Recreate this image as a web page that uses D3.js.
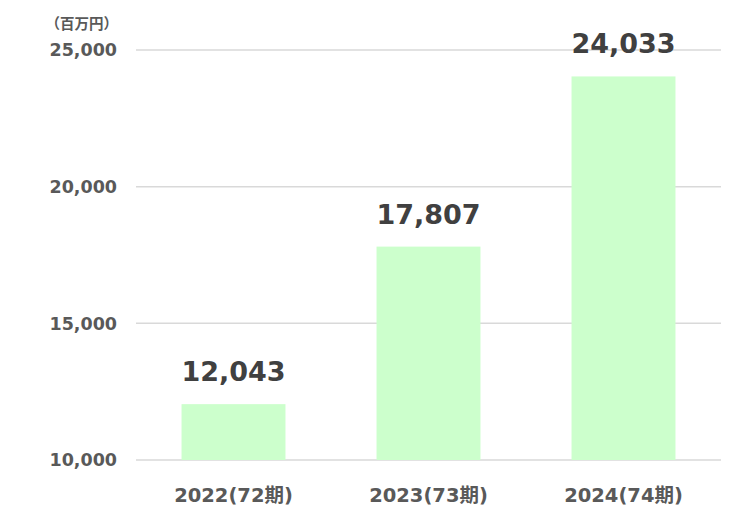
<!DOCTYPE html>
<html>
<head>
<meta charset="utf-8">
<script src="https://cdn.jsdelivr.net/npm/d3@7"></script>
<style>
  body { margin: 0; background: #fff; }
  svg text { font-family: "DejaVu Sans", "Noto Sans CJK JP", sans-serif; font-weight: bold; }
</style>
</head>
<body>
<div id="chart"></div>
<script>
// Chart data
const categories = ["2022(72期)", "2023(73期)", "2024(74期)"];
const sales = [12043, 17807, 24033];
const yTicks = [10000, 15000, 20000, 25000];
const unitLabel = "（百万円）";

const WIDTH = 745;
const HEIGHT = 513;

const svg = d3
  .select("#chart")
  .append("svg")
  .attr("width", WIDTH)
  .attr("height", HEIGHT);

const xScale = d3
  .scaleBand()
  .domain(categories)
  .range([136, 721])
  .paddingInner(0.467)
  .paddingOuter(0.2335);

const yScale = d3.scaleLinear([10000, 25000], [460, 50]);

// Gridlines
svg
  .append("g")
  .selectAll("line")
  .data(yTicks)
  .enter()
  .append("line")
  .attr("x1", 136)
  .attr("x2", 721)
  .attr("y1", (d) => yScale(d))
  .attr("y2", (d) => yScale(d))
  .attr("stroke", "#d9d9d9")
  .attr("stroke-width", 1.5);

// Y tick labels
svg
  .append("g")
  .selectAll("text")
  .data(yTicks)
  .enter()
  .append("text")
  .attr("x", 117)
  .attr("y", (d) => yScale(d))
  .attr("dy", "0.37em")
  .attr("text-anchor", "end")
  .style("font-size", "17.5px")
  .style("fill", "#595959")
  .text((d) => d3.format(",")(d));

svg
  .append("text")
  .attr("x", 118)
  .attr("y", 29)
  .attr("text-anchor", "end")
  .style("font-family", "'Noto Sans CJK JP', sans-serif")
  .style("font-size", "14.5px")
  .style("fill", "#595959")
  .text(unitLabel);

// Bars
svg
  .append("g")
  .selectAll("rect")
  .data(sales)
  .enter()
  .append("rect")
  .attr("x", (d, i) => xScale(categories[i]))
  .attr("y", (d) => yScale(d))
  .attr("width", xScale.bandwidth())
  .attr("height", (d) => yScale(10000) - yScale(d))
  .style("fill", "#ccffcc");

// Value labels
svg
  .append("g")
  .selectAll("text")
  .data(sales)
  .enter()
  .append("text")
  .attr("x", (d, i) => xScale(categories[i]) + xScale.bandwidth() / 2)
  .attr("y", (d) => yScale(d) - 23)
  .attr("text-anchor", "middle")
  .style("font-size", "27px")
  .style("fill", "#404040")
  .text((d) => d3.format(",")(d));

// X axis labels
svg
  .append("g")
  .selectAll("text")
  .data(categories)
  .enter()
  .append("text")
  .attr("x", (d) => xScale(d) + xScale.bandwidth() / 2)
  .attr("y", 502)
  .attr("text-anchor", "middle")
  .style("font-size", "19.5px")
  .style("fill", "#595959")
  .text((d) => d);
</script>
</body>
</html>
